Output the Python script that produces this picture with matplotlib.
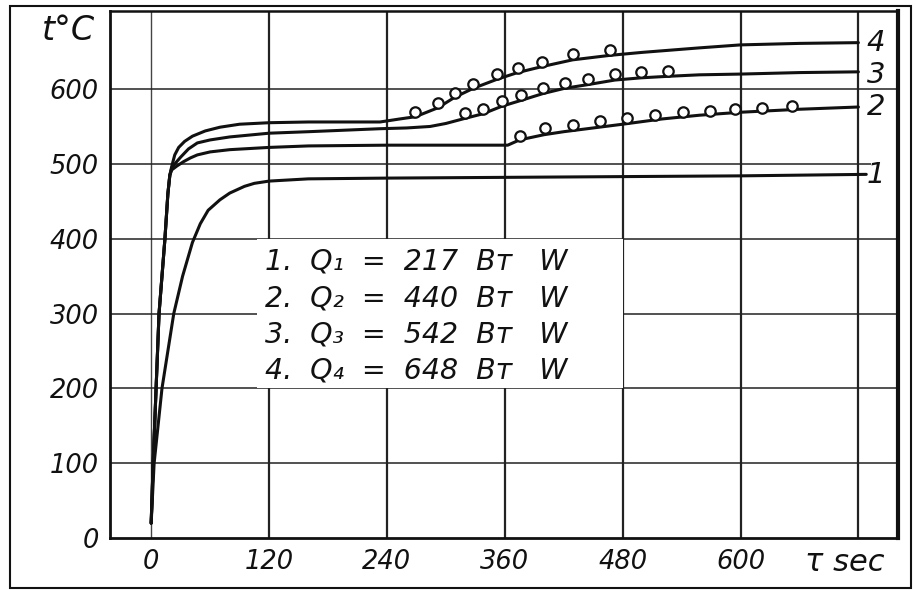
import matplotlib
matplotlib.use("Agg")
import matplotlib.pyplot as plt
from matplotlib.patches import Rectangle

# curve 1 : Q1 = 217 W
t1 = [0, 3, 11, 23, 32, 42, 50, 58, 70, 80, 95, 105, 120, 160, 240, 360, 480, 600, 728]
T1 = [20, 100, 200, 300, 350, 395, 420, 438, 452, 461, 470, 474, 477, 480, 481, 482, 483, 484, 486]

# curve 2 : Q2 = 440 W
t2 = [0, 2, 5, 8, 11, 14, 17, 19, 21, 26, 33, 40, 47, 60, 80, 120, 160, 240, 300, 363,
      375, 400, 420, 450, 480, 520, 558, 600, 660, 720]
T2 = [20, 100, 200, 300, 350, 400, 460, 485, 492, 497, 503, 508, 512, 516, 519, 522, 524, 525, 525, 525,
      532, 539, 543, 548, 553, 560, 565, 569, 573, 576]

# curve 3 : Q3 = 542 W
t3 = [0, 2, 5, 8, 11, 14, 17, 19, 21, 26, 30, 38, 47, 60, 80, 120, 160, 233, 260, 284, 300,
      320, 338, 357, 377, 399, 421, 445, 472, 499, 526, 558, 600, 660, 720]
T3 = [20, 100, 200, 300, 350, 400, 460, 485, 495, 503, 509, 520, 528, 532, 536, 541, 543, 547, 548, 550, 554,
      561, 567, 577, 585, 594, 601, 606, 612, 615, 617, 619, 620, 622, 623]

# curve 4 : Q4 = 648 W
t4 = [0, 2, 5, 8, 11, 14, 17, 19, 21, 24, 28, 34, 42, 55, 70, 90, 120, 160, 200, 233, 253,
      269, 292, 309, 328, 352, 373, 398, 429, 467, 500, 558, 600, 660, 720]
T4 = [20, 100, 200, 300, 350, 400, 460, 485, 497, 512, 522, 530, 537, 544, 549, 553, 555, 556, 556, 556, 560,
      563, 575, 589, 601, 613, 622, 630, 639, 645, 649, 655, 659, 661, 662]

# measured points (circles)
dots2_t = [375, 401, 429, 457, 484, 513, 541, 569, 594, 622, 652]
dots2_T = [537, 548, 552, 557, 561, 565, 569, 571, 573, 575, 577]
dots3_t = [320, 338, 357, 377, 399, 421, 445, 472, 499, 526]
dots3_T = [568, 573, 584, 592, 601, 608, 613, 620, 623, 624]
dots4_t = [269, 292, 309, 328, 352, 373, 398, 429, 467]
dots4_T = [569, 581, 595, 607, 620, 628, 636, 647, 652]

x_ticks = [0, 120, 240, 360, 480, 600]
y_ticks = [0, 100, 200, 300, 400, 500, 600]
legend_lines = ["1.  Q₁  =  217  Вт   W", "2.  Q₂  =  440  Вт   W",
                "3.  Q₃  =  542  Вт   W", "4.  Q₄  =  648  Вт   W"]
curve_names = ["1", "2", "3", "4"]
curve_ends = [485, 576, 619, 661]

ink = "#111111"
fig = plt.figure(figsize=(9.16, 5.90), dpi=100)
ax = fig.add_axes([0.120, 0.088, 0.860, 0.893])
ax.set_xlim(-42, 760)
ax.set_ylim(0, 704)

# grid
for x in [120, 240, 360, 480, 600, 720]:
    ax.axvline(x, color="#222222", lw=1.6, zorder=1)
ax.axvline(0, color="#444444", lw=1.0, zorder=1)
for y in [100, 200, 300, 400, 600]:
    ax.axhline(y, color="#222222", lw=1.1, zorder=1)
ax.hlines(500, -42, 733, color="#222222", lw=1.1, zorder=1)

# blank area behind the legend text
ax.add_patch(Rectangle((108, 200), 372, 200, facecolor="white", edgecolor="none", zorder=2))
for i, s in enumerate(legend_lines):
    ax.text(116, 369 - i * 48.5, s, fontsize=20.5, style="oblique", color=ink,
            va="center", ha="left", zorder=3)

for t, T in [(t1, T1), (t2, T2), (t3, T3), (t4, T4)]:
    ax.plot(t, T, color=ink, lw=2.2, solid_capstyle="round", zorder=4)
for t, T in [(dots2_t, dots2_T), (dots3_t, dots3_T), (dots4_t, dots4_T)]:
    ax.plot(t, T, "o", ms=7.5, mfc="white", mec=ink, mew=1.6, zorder=5)

for name, T in zip(curve_names, curve_ends):
    ax.text(738, T, name, fontsize=21, style="oblique", color=ink, va="center", ha="center", zorder=5)

ax.set_xticks(x_ticks)
ax.set_xticklabels([str(v) for v in x_ticks])
ax.set_yticks(y_ticks)
ax.set_yticklabels([str(v) for v in y_ticks])
ax.tick_params(length=0, labelsize=18.5, colors=ink, pad=8)
for lab in ax.get_xticklabels() + ax.get_yticklabels():
    lab.set_style("oblique")

ax.text(0.933, -0.047, "τ sec", transform=ax.transAxes, fontsize=22, style="oblique",
        color=ink, ha="center", va="center")
ax.text(-0.053, 0.964, "t°C", transform=ax.transAxes, fontsize=24, style="oblique",
        color=ink, ha="center", va="center")

for side, w in [("left", 2.0), ("bottom", 2.0), ("top", 1.8), ("right", 3.0)]:
    ax.spines[side].set_linewidth(w)
    ax.spines[side].set_color(ink)

fig.patches.append(Rectangle((0.011, 0.003), 0.984, 0.987, transform=fig.transFigure,
                             fill=False, edgecolor=ink, lw=1.5))

fig.savefig("out.png", dpi=100)
